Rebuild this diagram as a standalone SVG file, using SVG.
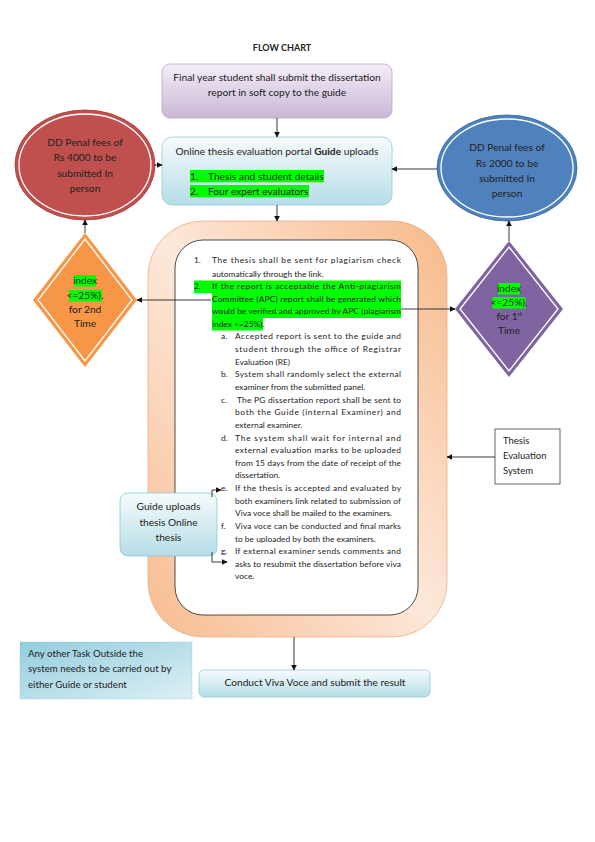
<svg xmlns="http://www.w3.org/2000/svg" width="595" height="842" viewBox="0 0 595 842">
<style>
text{font-family:Lato,"Liberation Sans",sans-serif;fill:#222;}
.t{font-size:10.2px;}
.s{font-size:8.4px;}
.c{text-anchor:middle;}
.hl{fill:#00ff00;}
.con{stroke:#222;stroke-width:0.9;fill:none;marker-end:url(#ah);}
</style>
<defs>
<marker id="ah" viewBox="0 0 10 10" refX="9" refY="5" markerWidth="6" markerHeight="6" orient="auto" markerUnits="userSpaceOnUse"><path d="M0,0 L10,5 L0,10 z" fill="#111"/></marker>
<linearGradient id="gPur" x1="0" y1="0" x2="0" y2="1"><stop offset="0" stop-color="#f4eef7"/><stop offset="1" stop-color="#c9b7d6"/></linearGradient>
<linearGradient id="gCy" x1="0" y1="0" x2="0" y2="1"><stop offset="0" stop-color="#f7fbfc"/><stop offset="1" stop-color="#b5dde7"/></linearGradient>
<linearGradient id="gAny" x1="0" y1="0" x2="1" y2="1"><stop offset="0" stop-color="#93cddd"/><stop offset="1" stop-color="#dcf0f5"/></linearGradient>
<linearGradient id="gOr" x1="0" y1="1" x2="1" y2="0"><stop offset="0" stop-color="#f7bb8e"/><stop offset="0.5" stop-color="#fde8da"/><stop offset="1" stop-color="#f7b988"/></linearGradient>
</defs>

<text x="282" y="51" class="c" style="font-size:9px;font-weight:bold">FLOW CHART</text>

<g id="n-submit">
<rect x="162" y="64" width="230" height="54" rx="8" fill="url(#gPur)" stroke="#b9a6c9" stroke-width="0.8"/>
<text x="277" y="81" class="t c">Final year student shall submit the dissertation</text>
<text x="277" y="96" class="t c">report in soft copy to the guide</text>
</g>

<g id="n-portal">
<rect x="162" y="137" width="230" height="68" rx="10" fill="url(#gCy)" stroke="#93c9d8" stroke-width="0.8"/>
<text x="277" y="155" class="t c">Online thesis evaluation portal <tspan font-weight="bold">Guide</tspan> uploads</text>
<rect x="190" y="170" width="134" height="12.3" class="hl"/>
<rect x="190" y="185" width="119" height="12.3" class="hl"/>
<text x="190" y="179.5" class="t">1.</text><text x="208" y="179.5" class="t">Thesis and student details</text>
<text x="190" y="194.5" class="t">2.</text><text x="208" y="194.5" class="t">Four expert evaluators</text>
</g>

<g id="n-dd4000">
<ellipse cx="85" cy="165" rx="70" ry="55" fill="#c0504d" stroke="#b04541" stroke-width="1"/>
<ellipse cx="85" cy="165" rx="66" ry="51" fill="none" stroke="#fff" stroke-width="1.3"/>
<text x="85" y="146" class="t c">DD Penal fees of</text>
<text x="85" y="161" class="t c">Rs 4000 to be</text>
<text x="85" y="177" class="t c">submitted In</text>
<text x="85" y="192" class="t c">person</text>
</g>

<g id="n-dd2000">
<ellipse cx="507" cy="168" rx="70" ry="53" fill="#4f81bd" stroke="#4473ad" stroke-width="1"/>
<ellipse cx="507" cy="168" rx="66" ry="49" fill="none" stroke="#fff" stroke-width="1.3"/>
<text x="507" y="151" class="t c">DD Penal fees of</text>
<text x="507" y="166.5" class="t c">Rs 2000 to be</text>
<text x="507" y="182" class="t c">submitted In</text>
<text x="507" y="196.5" class="t c">person</text>
</g>

<g id="n-second">
<polygon points="85,233 137,300 85,367 33,300" fill="#f79646"/>
<polygon points="85,239 132,300 85,361 38,300" fill="none" stroke="#fff" stroke-width="1.3"/>
<rect x="74" y="275" width="22" height="11.5" class="hl"/>
<rect x="69" y="290" width="33" height="11.5" class="hl"/>
<text x="85" y="284" class="t c">index</text>
<text x="85" y="299" class="t c">&lt;=25%).</text>
<text x="85" y="312.5" class="t c">for 2nd</text>
<text x="85" y="326.5" class="t c">Time</text>
</g>

<g id="n-first">
<polygon points="509,241 563,309 509,377 455,309" fill="#8064a2"/>
<polygon points="509,247 558,309 509,371 460,309" fill="none" stroke="#fff" stroke-width="1.3"/>
<rect x="498" y="283" width="22" height="11.5" class="hl"/>
<rect x="492.5" y="297" width="33" height="11.5" class="hl"/>
<text x="509" y="292" class="t c">index</text>
<text x="509" y="306" class="t c">&lt;=25%).</text>
<text x="509" y="320" class="t c">for 1<tspan font-size="5" dy="-4">st</tspan></text>
<text x="509" y="334" class="t c">Time</text>
</g>

<g id="n-process">
<rect x="148" y="221" width="299" height="416" rx="55" fill="url(#gOr)" stroke="#e9b08a" stroke-width="0.8"/>
<rect x="175" y="240" width="243" height="375" rx="28" fill="#fff" stroke="#222" stroke-width="0.8"/>
<rect x="194" y="280.5" width="207" height="12.5" class="hl"/>
<rect x="212" y="293" width="189" height="25" class="hl"/>
<rect x="212" y="318" width="51" height="12.5" class="hl"/>
<g>
<text x="194" y="263" class="s">1.</text>
<text x="212" y="263" class="s" textLength="189" lengthAdjust="spacing">The thesis shall be sent for plagiarism check</text>
<text x="212" y="276.7" class="s">automatically through the link.</text>
<text x="194" y="289.4" class="s">2.</text>
<text x="212" y="289.4" class="s" textLength="189" lengthAdjust="spacing">If the report is acceptable the Anti-plagiarism</text>
<text x="212" y="301.7" class="s" textLength="189" lengthAdjust="spacing">Committee (APC) report shall be generated which</text>
<text x="212" y="314.4" class="s" textLength="189" lengthAdjust="spacing">would be verified and approved by APC (plagiarism</text>
<text x="212" y="326.7" class="s">index &lt;=25%).</text>

<text x="221" y="338.7" class="s">a.</text>
<text x="235" y="338.7" class="s" textLength="166" lengthAdjust="spacing">Accepted report is sent to the guide and</text>
<text x="235" y="351.7" class="s" textLength="166" lengthAdjust="spacing">student through the office of Registrar</text>
<text x="235" y="365" class="s">Evaluation (RE)</text>

<text x="221" y="376.7" class="s">b.</text>
<text x="235" y="376.7" class="s" textLength="166" lengthAdjust="spacing">System shall randomly select the external</text>
<text x="235" y="390" class="s">examiner from the submitted panel.</text>

<text x="221" y="403.4" class="s">c.</text>
<text x="237" y="403.4" class="s" textLength="164" lengthAdjust="spacing">The PG dissertation report shall be sent to</text>
<text x="235" y="415" class="s" textLength="166" lengthAdjust="spacing">both the Guide (internal Examiner) and</text>
<text x="235" y="428.4" class="s">external examiner.</text>

<text x="221" y="441" class="s">d.</text>
<text x="235" y="441" class="s" textLength="166" lengthAdjust="spacing">The system shall wait for internal and</text>
<text x="235" y="452.7" class="s" textLength="166" lengthAdjust="spacing">external evaluation marks to be uploaded</text>
<text x="235" y="466" class="s" textLength="166" lengthAdjust="spacing">from 15 days from the date of receipt of the</text>
<text x="235" y="478.4" class="s">dissertation.</text>

<text x="221" y="491" class="s">e.</text>
<text x="235" y="491" class="s" textLength="166" lengthAdjust="spacing">If the thesis is accepted and evaluated by</text>
<text x="235" y="503.7" class="s" textLength="166" lengthAdjust="spacing">both examiners link related to submission of</text>
<text x="235" y="516" class="s">Viva voce shall be mailed to the examiners.</text>

<text x="221" y="529.4" class="s">f.</text>
<text x="235" y="529.4" class="s" textLength="166" lengthAdjust="spacing">Viva voce can be conducted and final marks</text>
<text x="235" y="541.7" class="s">to be uploaded by both the examiners.</text>

<text x="221" y="554.4" class="s">g.</text>
<text x="235" y="554.4" class="s" textLength="166" lengthAdjust="spacing">If external examiner sends comments and</text>
<text x="235" y="567" class="s" textLength="166" lengthAdjust="spacing">asks to resubmit the dissertation before viva</text>
<text x="235" y="578.7" class="s">voce.</text>
</g>
</g>

<g id="n-guide">
<rect x="120" y="493" width="97" height="63" rx="8" fill="url(#gCy)" stroke="#8ec6d6" stroke-width="0.8"/>
<text x="168.5" y="510" class="t c">Guide uploads</text>
<text x="168.5" y="525.5" class="t c">thesis Online</text>
<text x="168.5" y="540.5" class="t c">thesis</text>
</g>

<g id="n-tes">
<rect x="495" y="429" width="65" height="55" fill="#fff" stroke="#555" stroke-width="0.9"/>
<text x="503" y="443.5" class="t" style="font-size:9.5px">Thesis</text>
<text x="503" y="458.8" class="t" style="font-size:9.5px">Evaluation</text>
<text x="503" y="474" class="t" style="font-size:9.5px">System</text>
</g>

<g id="n-other">
<rect x="20" y="642" width="172" height="57" fill="url(#gAny)" stroke="#8fb9c6" stroke-width="0.6" stroke-dasharray="1 1"/>
<text x="28" y="656.5" class="t" style="font-size:9.7px">Any other Task Outside the</text>
<text x="28" y="671.5" class="t" style="font-size:9.7px">system needs to be carried out by</text>
<text x="28" y="687.5" class="t" style="font-size:9.7px">either Guide or student</text>
</g>

<g id="n-viva">
<rect x="199" y="670" width="231" height="27" rx="5" fill="url(#gCy)" stroke="#93c9d8" stroke-width="0.8"/>
<text x="315" y="686" class="t c">Conduct Viva Voce and submit the result</text>
</g>

<g id="connectors">
<line x1="277" y1="118" x2="277" y2="137" class="con"/>
<line x1="277" y1="205" x2="277" y2="221" class="con"/>
<line x1="154" y1="165" x2="162" y2="165" class="con"/>
<line x1="437" y1="169" x2="392" y2="169" class="con"/>
<line x1="85" y1="233" x2="85" y2="220" class="con"/>
<line x1="509" y1="241" x2="509" y2="221" class="con"/>
<line x1="211" y1="300" x2="137" y2="300" class="con"/>
<line x1="401" y1="309" x2="455" y2="309" class="con"/>
<line x1="495" y1="457" x2="447" y2="457" class="con"/>
<line x1="294" y1="637" x2="294" y2="670" class="con"/>
<path d="M212,497 V490 H221" class="con"/>
<path d="M212,552 V562 H227" class="con"/>
</g>
</svg>
